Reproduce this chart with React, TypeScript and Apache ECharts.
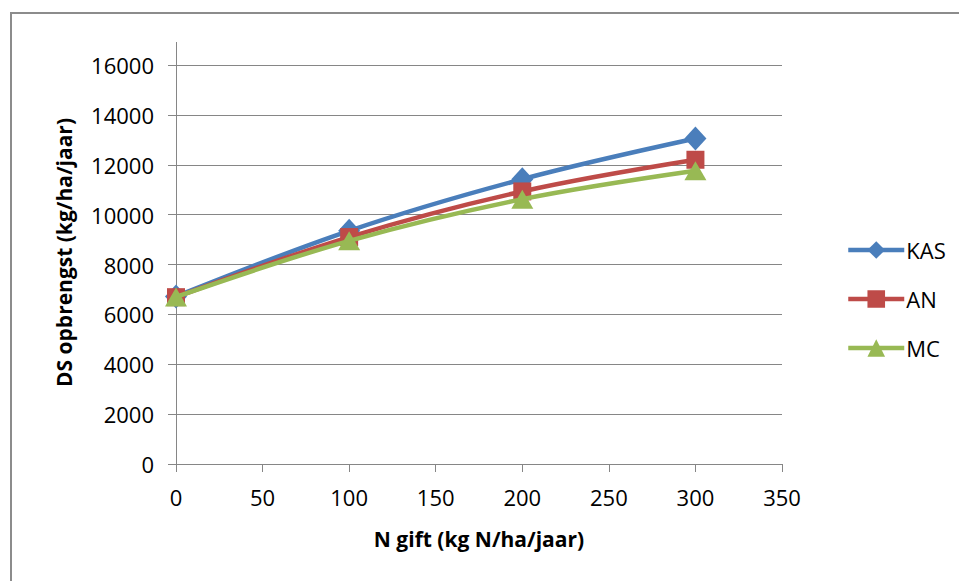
import React, { useEffect, useRef } from "react";
import * as echarts from "echarts";

// N application (kg N/ha/year)
const nGift: number[] = [0, 100, 200, 300];
// Dry-matter yield per fertiliser type (kg/ha/year)
const kas: number[] = [6720, 9350, 11420, 13050];
const an: number[] = [6690, 9100, 10930, 12200];
const mc: number[] = [6700, 8950, 10620, 11760];

const seriesNames: string[] = ["KAS", "AN", "MC"];
const colors: string[] = ["#4A7EBB", "#BE4B48", "#98B954"];

const FONT = "'Open Sans', 'Liberation Sans', sans-serif";

const pairs = (ys: number[]) => nGift.map((x, i) => [x, ys[i]]);

export default function App() {
  const ref = useRef<HTMLDivElement>(null);

  useEffect(() => {
    if (!ref.current) return;
    const chart = echarts.init(ref.current, undefined, { renderer: "svg" });
    const axisGray = "#868686";
    const plain = (v: number) => String(v);

    chart.setOption({
      animation: false,
      backgroundColor: "#ffffff",
      textStyle: { fontFamily: FONT },
      grid: { left: 176, right: 177, top: 65, bottom: 117 },
      xAxis: {
        type: "value",
        min: 0,
        max: 350,
        interval: 50,
        name: "N gift (kg N/ha/jaar)",
        nameLocation: "middle",
        nameGap: 64,
        nameTextStyle: { fontFamily: FONT, fontSize: 21, fontWeight: "bold", color: "#000" },
        axisLine: { show: true, onZero: false, lineStyle: { color: axisGray, width: 1 } },
        axisTick: { show: true, length: 8, lineStyle: { color: axisGray } },
        axisLabel: { fontFamily: FONT, fontSize: 22, color: "#000", margin: 22, formatter: plain },
        splitLine: { show: false },
      },
      yAxis: {
        type: "value",
        min: 0,
        max: 16000,
        interval: 2000,
        name: "DS opbrengst (kg/ha/jaar)",
        nameLocation: "middle",
        nameGap: 102,
        nameTextStyle: {
          fontFamily: FONT,
          fontSize: 21,
          fontWeight: "bold",
          color: "#000",
          padding: [0, 0, 0, 24],
        },
        axisLine: { show: true, lineStyle: { color: axisGray, width: 1 } },
        axisTick: { show: true, length: 8, lineStyle: { color: axisGray } },
        axisLabel: { fontFamily: FONT, fontSize: 22, color: "#000", margin: 22, formatter: plain },
        splitLine: { show: true, lineStyle: { color: axisGray, width: 1 } },
      },
      legend: {
        orient: "vertical",
        left: 841,
        top: 234,
        itemWidth: 56,
        itemHeight: 22,
        itemGap: 27,
        lineStyle: { width: 4.5 },
        textStyle: { fontFamily: FONT, fontSize: 22, color: "#000", padding: [0, 0, 0, -3] },
        data: seriesNames,
      },
      graphic: [
        // chart frame (left and top edges)
        {
          type: "polyline",
          silent: true,
          shape: { points: [[11, 581], [11, 13], [959, 13]] },
          style: { stroke: "#8C8C8C", lineWidth: 2, fill: "none" },
        },
        // value axis line continues above the top gridline
        {
          type: "line",
          silent: true,
          shape: { x1: 176.5, y1: 42, x2: 176.5, y2: 65 },
          style: { stroke: axisGray, lineWidth: 1 },
        },
      ],
      series: [
        {
          name: seriesNames[0],
          type: "line",
          smooth: 0.35,
          data: pairs(kas),
          symbol: "diamond",
          symbolSize: [22, 24],
          lineStyle: { color: colors[0], width: 4.5 },
          itemStyle: { color: colors[0] },
          z: 3,
        },
        {
          name: seriesNames[1],
          type: "line",
          smooth: 0.35,
          data: pairs(an),
          symbol: "rect",
          symbolSize: 18,
          lineStyle: { color: colors[1], width: 4.5 },
          itemStyle: { color: colors[1] },
          z: 4,
        },
        {
          name: seriesNames[2],
          type: "line",
          smooth: 0.35,
          data: pairs(mc),
          symbol: "triangle",
          symbolSize: [22, 19],
          lineStyle: { color: colors[2], width: 4.5 },
          itemStyle: { color: colors[2] },
          z: 5,
        },
      ],
    });

    return () => chart.dispose();
  }, []);

  return (
    <div
      ref={ref}
      style={{ position: "fixed", left: 0, top: 0, width: 959, height: 581, background: "#fff" }}
    />
  );
}
